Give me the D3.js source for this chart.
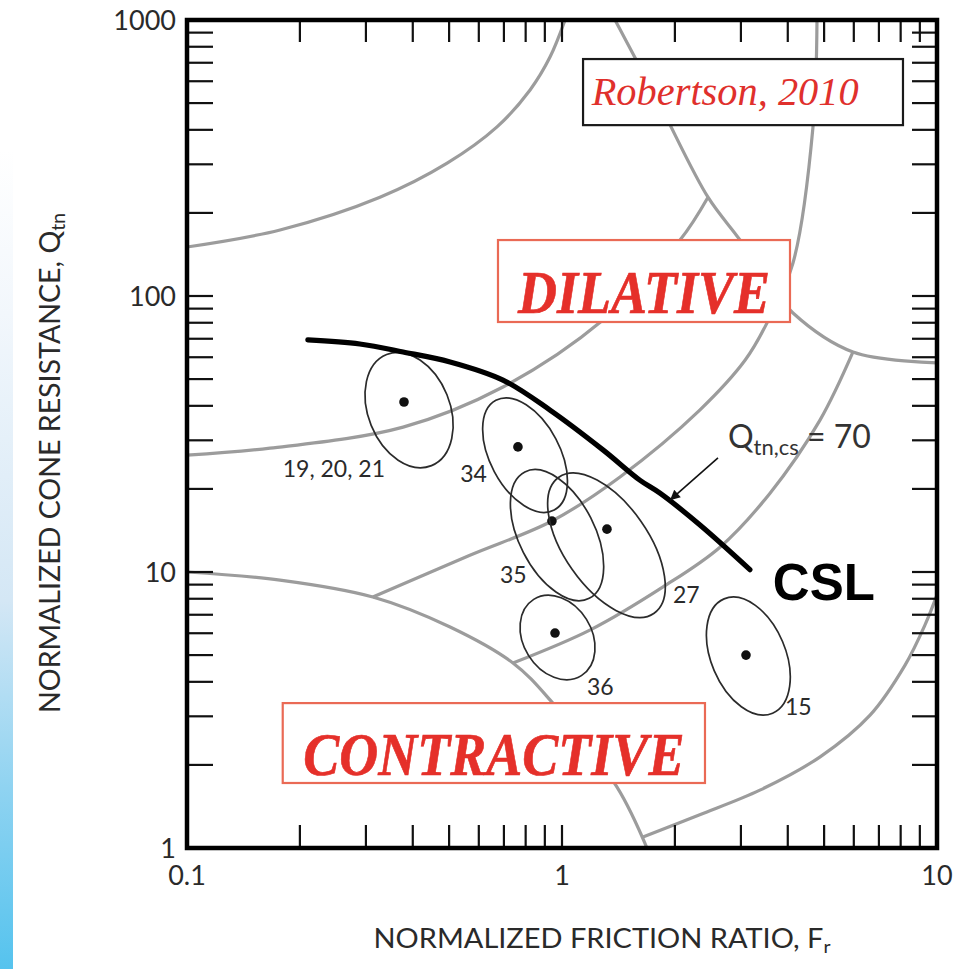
<!DOCTYPE html>
<html><head><meta charset="utf-8">
<script src="https://cdn.jsdelivr.net/npm/d3@7"></script>
<style>html,body{margin:0;padding:0;background:#fff;}svg{display:block;}</style>
</head><body><svg id="c" width="959" height="969"></svg>
<script>
// ---------- DATA ----------
const frTickValues = [0.1, 1, 10];
const frTickLabels = ["0.1", "1", "10"];
const qTickValues = [1, 10, 100, 1000];
const qTickLabels = ["1", "10", "100", "1000"];

// Critical state line (Qtn,cs = 70)
const cslFr = [0.21, 0.289, 0.377, 0.503, 0.696, 0.929, 1.286, 1.614, 1.825, 2.333, 3.17];
const cslQ  = [69.3, 67.0, 62.7, 57.7, 49.6, 38.6, 27.7, 21.5, 19.3, 14.8, 10.2];

// SBT zone boundaries (gray)
const bndA_Fr = [0.1, 0.177, 0.327, 0.494, 0.671, 0.822, 0.929, 1.019];
const bndA_Q  = [150.5, 173.5, 228, 303, 410, 558, 734, 1000];
const bndB_Fr = [0.1, 0.1665, 0.377, 0.696, 1.286, 2.064, 2.451];
const bndB_Q  = [26.5, 28.1, 33.5, 46.8, 81.8, 159.5, 228];
const bndC_Fr = [1.385, 1.825, 2.451, 2.983, 3.52, 4.13, 5.97, 10];
const bndC_Q  = [1000, 492, 228, 159.5, 114, 86.8, 62.7, 57.2];
const bndD_Fr = [4.786, 4.67, 4.13, 3.522, 3.08, 2.33, 1.428, 0.94, 0.568, 0.313];
const bndD_Q  = [1000, 410, 131.7, 79.9, 58.6, 38.6, 22.1, 15.3, 11.5, 8.12];
const bndE_Fr = [5.97, 4.875, 3.587, 2.638, 1.86, 1.19, 0.74];
const bndE_Q  = [62.7, 35.5, 19.3, 12.3, 8.83, 6.17, 4.68];
const bndF_Fr = [0.1, 0.177, 0.313, 0.503, 0.74, 0.929, 1.402, 1.685];
const bndF_Q  = [10, 9.35, 8.12, 6.32, 4.68, 3.44, 1.663, 1.0];
const bndG_Fr = [1.644, 2.33, 3.37, 4.88, 6.63, 8.22, 9.29, 10];
const bndG_Q  = [1.096, 1.32, 1.62, 2.14, 3.03, 4.60, 6.43, 8.26];

// Sites: ellipses (centre, spread in decades, tilt), mean point, label
const siteLabels  = ["19, 20, 21", "34", "35", "27", "36", "15"];
const siteDotFr   = [0.379, 0.763, 0.940, 1.318, 0.958, 3.095];
const siteDotQ    = [41.3, 28.4, 15.3, 14.3, 6.01, 5.0];
const ellFr       = [0.391, 0.797, 0.970, 1.314, 0.973, 3.14];
const ellQ        = [38.6, 26.5, 13.6, 12.5, 5.79, 4.96];
const ellSpreadFr = [0.109, 0.093, 0.101, 0.112, 0.091, 0.099];
const ellSpreadQ  = [0.217, 0.225, 0.257, 0.301, 0.163, 0.225];
const ellTilt     = [22, 28, 27, 35, 32, 23];
const labelFr     = [0.180, 0.535, 0.683, 1.977, 1.166, 3.93];
const labelQ      = [22.1, 21.2, 9.12, 7.72, 3.58, 3.03];

// ---------- CHART ----------
const svg = d3.select("#c");
const x = d3.scaleLog().domain([0.1, 10]).range([187, 937]);
const y = d3.scaleLog().domain([1, 1000]).range([848, 20]);
const SANS = "Lato, 'Open Sans', sans-serif";
const SERIF = "'Liberation Serif', 'DejaVu Serif', serif";

// left blue strip
const defs = svg.append("defs");
const g1 = defs.append("linearGradient").attr("id","blue").attr("x1",0).attr("y1",0).attr("x2",0).attr("y2",1);
[[0,"#ffffff"],[0.2,"#f2f7fc"],[0.55,"#d4e7f5"],[0.78,"#8fd3f1"],[1,"#55c3ee"]].forEach(s=>g1.append("stop").attr("offset",s[0]).attr("stop-color",s[1]));
svg.append("rect").attr("x",0).attr("y",150).attr("width",13).attr("height",819).attr("fill","url(#blue)");

defs.append("clipPath").attr("id","plot").append("rect")
  .attr("x",x(0.1)).attr("y",y(1000)).attr("width",x(10)-x(0.1)).attr("height",y(1)-y(1000));

const plot = svg.append("g").attr("clip-path","url(#plot)");

const lineGen = d3.line().x(d=>x(d[0])).y(d=>y(d[1])).curve(d3.curveCatmullRom.alpha(0.5));
const bnds = [[bndA_Fr,bndA_Q],[bndB_Fr,bndB_Q],[bndC_Fr,bndC_Q],[bndD_Fr,bndD_Q],[bndE_Fr,bndE_Q],[bndF_Fr,bndF_Q],[bndG_Fr,bndG_Q]];
bnds.forEach(b=>{
  plot.append("path").attr("d", lineGen(b[0].map((v,i)=>[v,b[1][i]])))
    .attr("fill","none").attr("stroke","#9c9c9c").attr("stroke-width",3.2);
});

// ellipses
siteLabels.forEach((lab,i)=>{
  const cx = x(ellFr[i]), cy = y(ellQ[i]);
  const rx = x(ellFr[i]*Math.pow(10,ellSpreadFr[i])) - cx;
  const ry = cy - y(ellQ[i]*Math.pow(10,ellSpreadQ[i]));
  plot.append("ellipse").attr("cx",cx).attr("cy",cy).attr("rx",rx).attr("ry",ry)
    .attr("transform",`rotate(${-ellTilt[i]},${cx},${cy})`)
    .attr("fill","none").attr("stroke","#2b2b2b").attr("stroke-width",1.7);
  plot.append("circle").attr("cx",x(siteDotFr[i])).attr("cy",y(siteDotQ[i])).attr("r",4.8).attr("fill","#111");
  svg.append("text").attr("x",x(labelFr[i])).attr("y",y(labelQ[i]))
    .attr("font-family",SANS).attr("font-size",23).attr("fill","#2a2a2a").text(lab);
});

// CSL
plot.append("path").attr("d", lineGen(cslFr.map((v,i)=>[v,cslQ[i]])))
  .attr("fill","none").attr("stroke","#000").attr("stroke-width",5.2).attr("stroke-linecap","round");

// annotation boxes
function box(fr0,fr1,q0,q1,stroke){
  svg.append("rect").attr("x",x(fr0)).attr("y",y(q1)).attr("width",x(fr1)-x(fr0)).attr("height",y(q0)-y(q1))
    .attr("fill","#fff").attr("stroke",stroke).attr("stroke-width",2.2);
}
box(1.138, 8.115, 416, 722, "#1a1a1a");
svg.append("text").attr("x",x(1.2)).attr("y",y(492)).attr("font-family",SERIF).attr("font-style","italic")
  .attr("font-size",39).attr("fill","#e0302c").attr("textLength",267).attr("lengthAdjust","spacingAndGlyphs").text("Robertson, 2010");

box(0.675, 4.055, 80.5, 159.5, "#ea6a55");
svg.append("g").attr("transform",`translate(${(x(0.675)+x(4.055))/2},${y(87)}) scale(1,1.12)`)
  .append("text").attr("text-anchor","middle").attr("font-family",SERIF).attr("font-weight","bold").attr("font-style","italic")
  .attr("font-size",54).attr("fill","#e5302a").attr("stroke","#e5302a").attr("stroke-width",0.6).text("DILATIVE");

box(0.180, 2.406, 1.72, 3.35, "#ea6a55");
svg.append("g").attr("transform",`translate(${(x(0.180)+x(2.406))/2},${y(1.84)}) scale(1,1.12)`)
  .append("text").attr("text-anchor","middle").attr("font-family",SERIF).attr("font-weight","bold").attr("font-style","italic")
  .attr("font-size",54).attr("fill","#e5302a").attr("stroke","#e5302a").attr("stroke-width",0.6).text("CONTRACTIVE");

// CSL label
svg.append("text").attr("x",x(3.65)).attr("y",y(7.92)).attr("font-family","'Liberation Sans', Arial, sans-serif")
  .attr("font-weight","bold").attr("font-size",51).attr("fill","#000").text("CSL");

// Qtn,cs = 70 label + arrow
const ql = svg.append("text").attr("x",x(2.77)).attr("y",y(28.1)).attr("font-family",SANS).attr("font-size",32).attr("fill","#333");
ql.append("tspan").text("Q");
ql.append("tspan").attr("font-size",22).attr("dy",7).text("tn,cs");
ql.append("tspan").attr("dy",-7).text(" = 70");
defs.append("marker").attr("id","arr").attr("viewBox","0 0 10 10").attr("refX",10).attr("refY",5)
  .attr("markerWidth",14).attr("markerHeight",10).attr("markerUnits","userSpaceOnUse").attr("orient","auto")
  .append("path").attr("d","M0,0 L10,5 L0,10 Z").attr("fill","#111");
svg.append("line").attr("x1",x(2.606)).attr("y1",y(25.9)).attr("x2",x(1.941)).attr("y2",y(18.2))
  .attr("stroke","#111").attr("stroke-width",1.6).attr("marker-end","url(#arr)");

// ticks (inward on all 4 sides)
const ax = svg.append("g").attr("stroke","#111").attr("stroke-width",2.2);
x.ticks().filter(t=>t>0.1001 && t<9.99).forEach(t=>{
  ax.append("line").attr("x1",x(t)).attr("x2",x(t)).attr("y1",y(1)).attr("y2",y(1)-23);
  ax.append("line").attr("x1",x(t)).attr("x2",x(t)).attr("y1",y(1000)).attr("y2",y(1000)+22);
});
y.ticks().filter(t=>t>1.001 && t<999).forEach(t=>{
  ax.append("line").attr("x1",x(0.1)).attr("x2",x(0.1)+26).attr("y1",y(t)).attr("y2",y(t));
  ax.append("line").attr("x1",x(10)).attr("x2",x(10)-25).attr("y1",y(t)).attr("y2",y(t));
});
// frame
svg.append("rect").attr("x",x(0.1)).attr("y",y(1000)).attr("width",x(10)-x(0.1)).attr("height",y(1)-y(1000))
  .attr("fill","none").attr("stroke","#000").attr("stroke-width",4.5);

// tick labels
frTickValues.forEach((v,i)=>{
  svg.append("text").attr("x",x(v)).attr("y",y(1)+37).attr("text-anchor","middle")
    .attr("font-family",SANS).attr("font-size",27).attr("fill","#2a2a2a").text(frTickLabels[i]);
});
qTickValues.forEach((v,i)=>{
  svg.append("text").attr("x",x(0.1)-11).attr("y",y(v)+10).attr("text-anchor","end")
    .attr("font-family",SANS).attr("font-size",27).attr("fill","#2a2a2a").text(qTickLabels[i]);
});

// axis titles
const xt = svg.append("text").attr("x",602).attr("y",948).attr("text-anchor","middle")
  .attr("font-family",SANS).attr("font-size",27).attr("fill","#2a2a2a")
  .attr("textLength",457).attr("lengthAdjust","spacingAndGlyphs");
xt.append("tspan").text("NORMALIZED FRICTION RATIO, F");
xt.append("tspan").attr("font-size",18).attr("dy",5).text("r");

const yt = svg.append("text").attr("transform","translate(60,463) rotate(-90)").attr("text-anchor","middle")
  .attr("font-family",SANS).attr("font-size",28).attr("fill","#2a2a2a")
  .attr("textLength",500).attr("lengthAdjust","spacingAndGlyphs");
yt.append("tspan").text("NORMALIZED CONE RESISTANCE, Q");
yt.append("tspan").attr("font-size",19).attr("dy",5).text("tn");
</script></body></html>
